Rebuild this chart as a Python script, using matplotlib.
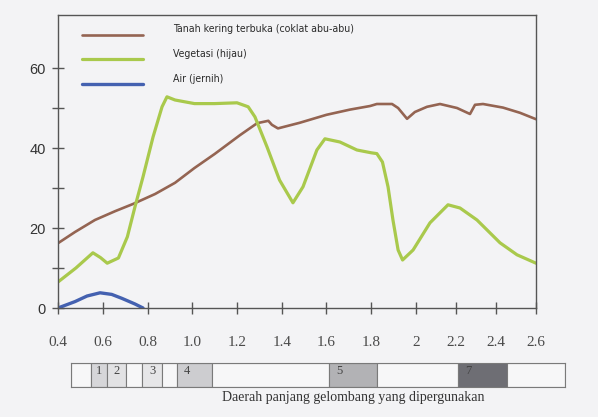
import numpy as np
import matplotlib
matplotlib.use("Agg")
import matplotlib.pyplot as plt
from matplotlib.legend_handler import HandlerLine2D

# Reflectance (%) against wavelength (micrometre) for three surface types
soil_wl = [0.40, 0.476, 0.565, 0.655, 0.735, 0.834, 0.923, 1.01, 1.10, 1.213,
           1.29, 1.34, 1.356, 1.383, 1.48, 1.60, 1.705, 1.795, 1.825, 1.893,
           1.92, 1.96, 1.995, 2.055, 2.12, 2.205, 2.27, 2.295, 2.335, 2.435,
           2.52, 2.60]
soil_ref = [16.2, 19.0, 22.0, 24.2, 26.0, 28.5, 31.3, 35.0, 38.5, 43.2,
            46.2, 46.8, 45.8, 44.9, 46.3, 48.3, 49.6, 50.5, 51.0, 51.0,
            50.0, 47.3, 49.0, 50.3, 51.0, 50.0, 48.5, 50.8, 51.0, 50.1,
            48.8, 47.2]

veg_wl = [0.40, 0.48, 0.53, 0.556, 0.59, 0.62, 0.67, 0.71, 0.744, 0.78,
          0.825, 0.865, 0.887, 0.923, 1.01, 1.10, 1.20, 1.25, 1.28, 1.334,
          1.39, 1.45, 1.495, 1.557, 1.593, 1.66, 1.736, 1.80, 1.825, 1.85,
          1.875, 1.897, 1.92, 1.94, 1.987, 2.07, 2.16, 2.22, 2.305, 2.42,
          2.505, 2.60]
veg_ref = [6.5, 10.0, 12.5, 13.8, 12.6, 11.2, 12.5, 17.8, 25.3, 32.8,
           42.8, 50.3, 52.8, 52.0, 51.1, 51.1, 51.3, 50.3, 47.8, 40.3,
           32.0, 26.3, 30.3, 39.5, 42.3, 41.5, 39.5, 38.8, 38.6, 36.5,
           30.3, 22.0, 14.5, 12.0, 14.5, 21.3, 25.8, 25.0, 22.0, 16.3,
           13.3, 11.2]

water_wl = [0.40, 0.476, 0.53, 0.588, 0.64, 0.686, 0.744, 0.78]
water_ref = [0.0, 1.6, 3.0, 3.8, 3.4, 2.4, 1.0, 0.0]

series_labels = ["Tanah kering terbuka (coklat abu-abu)", "Vegetasi (hijau)", "Air (jernih)"]
series_colors = ["#946452", "#a9c94c", "#4461b0"]

x_ticks = [0.4, 0.6, 0.8, 1.0, 1.2, 1.4, 1.6, 1.8, 2.0, 2.2, 2.4, 2.6]
x_tick_labels = ["0.4", "0.6", "0.8", "1.0", "1.2", "1.4", "1.6", "1.8", "2", "2.2", "2.4", "2.6"]
y_ticks = [0, 20, 40, 60]
y_minor = [10, 30, 50]

# sensor bands strip underneath (cell edges in strip units)
band_edges = [0, 20, 36, 55, 71, 91, 106, 141, 258, 306, 387, 436, 494]
band_names = ["", "1", "2", "", "3", "", "4", "", "5", "", "7", ""]
band_fill = ["#f7f7f8", "#d6d6d9", "#e2e2e4", "#f7f7f8", "#e6e6e8", "#f7f7f8",
             "#cdcdd0", "#f7f7f8", "#b2b2b5", "#f7f7f8", "#6e6e74", "#f7f7f8"]


class LowKey(HandlerLine2D):
    """Legend key line drawn a little below the middle of its label."""

    def create_artists(self, legend, orig_handle, xdescent, ydescent,
                       width, height, fontsize, trans):
        arts = super().create_artists(legend, orig_handle, xdescent, ydescent,
                                      width, height, fontsize, trans)
        for a in arts:
            a.set_ydata(np.asarray(a.get_ydata()) - 0.57 * fontsize)
        return arts


paper = "#f3f3f5"
fig = plt.figure(figsize=(5.98, 4.17), dpi=100, facecolor=paper)
ax = fig.add_axes([58 / 598, 1 - 308 / 417, 478 / 598, 293 / 417])
ax.set_facecolor(paper)

# the wavelength axis is stretched a bit more below 2.0 than above it
brk_in = [0.0, 2.0, 3.0]
brk_out = [0.0, 2.0, 2.0 + 200 / 223.75]
fwd = lambda v: np.interp(v, brk_in, brk_out)
inv = lambda v: np.interp(v, brk_out, brk_in)
ax.set_xscale("function", functions=(fwd, inv))

ax.plot(soil_wl, soil_ref, color=series_colors[0], lw=1.9, label=series_labels[0],
        solid_joinstyle="round", solid_capstyle="round")
ax.plot(veg_wl, veg_ref, color=series_colors[1], lw=2.3, label=series_labels[1],
        solid_joinstyle="round", solid_capstyle="round")
ax.plot(water_wl, water_ref, color=series_colors[2], lw=2.4, label=series_labels[2],
        solid_joinstyle="round", solid_capstyle="round")

ax.set_xlim(0.4, 2.6)
ax.set_ylim(0, 73.25)

ax.set_xticks(x_ticks)
ax.set_xticklabels(x_tick_labels, family=["Liberation Serif", "DejaVu Serif"],
                   fontsize=11, color="#4a4a4a")
ax.set_yticks(y_ticks)
ax.set_yticks(y_minor, minor=True)
ax.set_yticklabels([str(v) for v in y_ticks], family=["Liberation Sans", "DejaVu Sans"],
                   fontsize=10.5, color="#333333")
ax.tick_params(axis="x", which="both", direction="inout", length=9, width=1,
               color="#555555", pad=16)
ax.tick_params(axis="y", which="both", direction="inout", length=8, width=1,
               color="#555555", pad=5)
for sp in ax.spines.values():
    sp.set_color("#555555")
    sp.set_linewidth(1.0)

leg = ax.legend(loc="upper left", bbox_to_anchor=(0.05, 0.968), frameon=False,
                borderpad=0, borderaxespad=0, handlelength=5.75, handletextpad=2.85,
                labelspacing=1.4,
                handler_map={ln: LowKey() for ln in ax.get_lines()},
                prop={"family": ["DejaVu Sans"], "stretch": "condensed", "size": 7.6})
for t in leg.get_texts():
    t.set_color("#2a2a2a")

# band strip
bx = fig.add_axes([71 / 598, 1 - 387 / 417, 494 / 598, 24 / 417])
bx.set_facecolor(paper)
lefts = band_edges[:-1]
widths = np.diff(band_edges)
bx.bar(lefts, [1] * len(widths), width=widths, align="edge", color=band_fill,
       edgecolor="#7a7a7a", linewidth=0.8)
for lft, w, name in zip(lefts, widths, band_names):
    if name:
        bx.text(lft + min(w / 2, 10), 0.66, name, ha="center", va="center",
                fontsize=9, color="#444444", family=["Liberation Serif", "DejaVu Serif"])
bx.set_xlim(band_edges[0], band_edges[-1])
bx.set_ylim(0, 1)
bx.set_xticks([])
bx.set_yticks([])
for sp in bx.spines.values():
    sp.set_color("#7a7a7a")
    sp.set_linewidth(0.8)

fig.text(353 / 598, 1 - 397 / 417, "Daerah panjang gelombang yang dipergunakan",
         ha="center", va="center", fontsize=10, color="#333333",
         family=["Liberation Serif", "DejaVu Serif"])

fig.savefig("out.png", dpi=100, facecolor=paper)
